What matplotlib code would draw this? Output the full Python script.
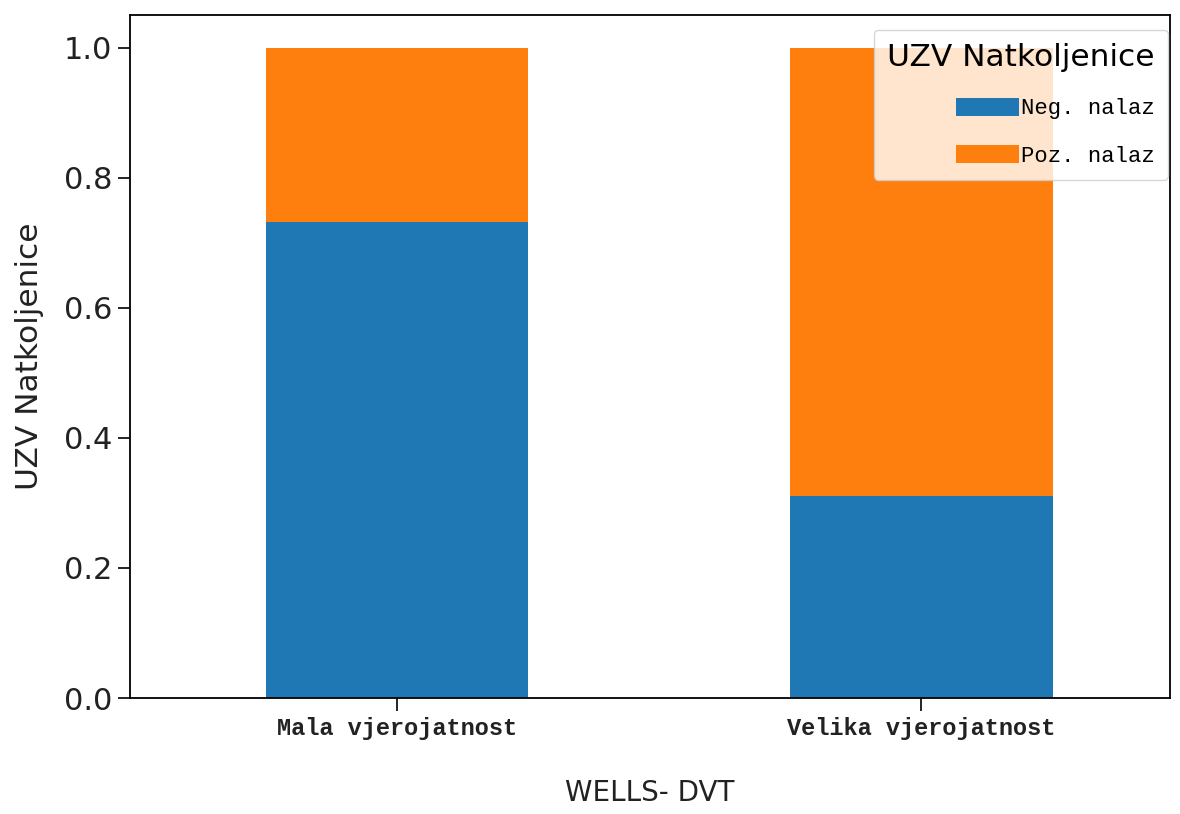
import matplotlib
matplotlib.use("Agg")
import matplotlib.pyplot as plt
import numpy as np

categories = ["Mala vjerojatnost", "Velika vjerojatnost"]
neg_values = [0.731, 0.311]
poz_values = [0.269, 0.689]
series_labels = ["Neg. nalaz", "Poz. nalaz"]
yticks = [0.0, 0.2, 0.4, 0.6, 0.8, 1.0]

fig = plt.figure(figsize=(11.8, 8.14), dpi=100)
ax = fig.add_axes([0.110, 0.1425, 0.8815, 0.8391])

x = np.arange(len(categories))
ax.bar(x, neg_values, width=0.5, color="#1f77b4", label=series_labels[0])
ax.bar(x, poz_values, width=0.5, bottom=neg_values, color="#ff7f0e", label=series_labels[1])

ax.set_xlim(-0.51, 1.474)
ax.set_ylim(0, 1.05)
ax.set_yticks(yticks)
ax.set_yticklabels([f"{v:.1f}" for v in yticks], fontsize=22, color="#222222")
ax.set_xticks(x)
ax.set_xticklabels(categories, family="Liberation Mono", fontsize=17, fontweight="bold", color="#222222")
ax.tick_params(axis="both", length=9, width=1.2)
ax.tick_params(axis="x", pad=5)
for s in ax.spines.values():
    s.set_linewidth(1.3)

ax.set_ylabel("UZV Natkoljenice", fontsize=22.5, color="#222222", labelpad=14)
ax.set_xlabel("WELLS- DVT", fontsize=20, color="#222222", labelpad=28)

leg = ax.legend(title="UZV Natkoljenice", loc="upper right", bbox_to_anchor=(0.998, 0.978),
                prop={"family": "Liberation Mono", "size": 16},
                title_fontsize=22.5, handlelength=2.8, handleheight=0.85, handletextpad=0.1, labelspacing=1.15,
                borderaxespad=0.0, borderpad=0.6, alignment="right", framealpha=0.8)

fig.savefig("out.png", dpi=100)
